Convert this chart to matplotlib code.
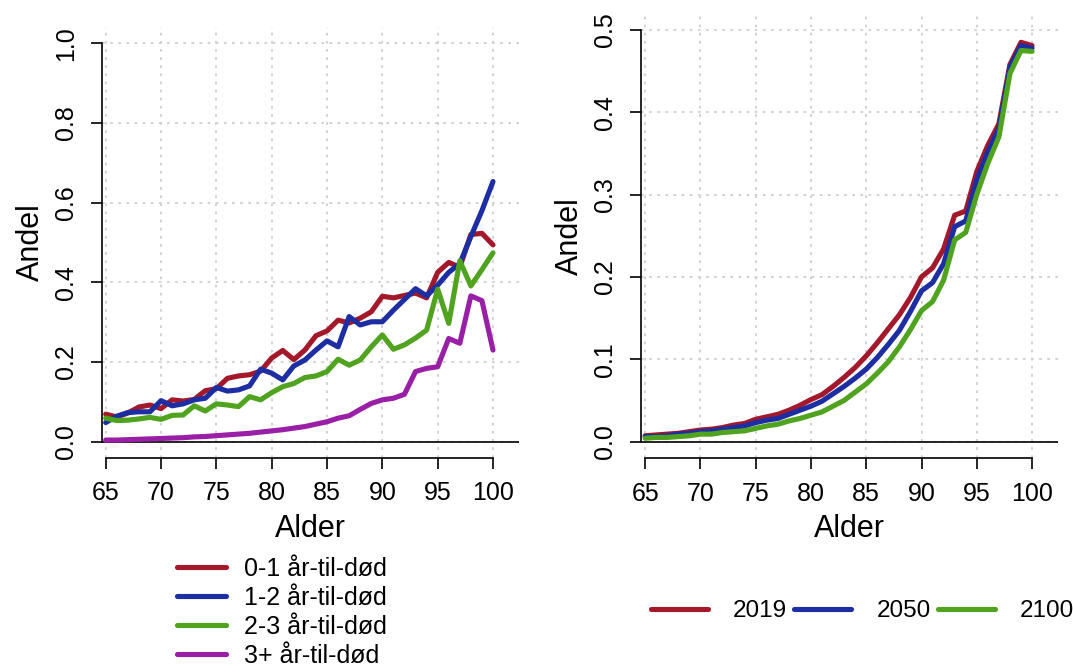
import matplotlib
matplotlib.use("Agg")
import matplotlib.pyplot as plt
import numpy as np

plt.rcParams['font.family'] = ['Liberation Sans', 'DejaVu Sans']

### DATA ###
ages = list(range(65, 101))

# left panel: andel by years-to-death
ttd_labels = ['0-1 år-til-død', '1-2 år-til-død', '2-3 år-til-død', '3+ år-til-død']
ttd_0_1 = [0.069, 0.062, 0.072, 0.087, 0.092, 0.083, 0.105, 0.102, 0.106, 0.128, 0.133,
           0.159, 0.165, 0.168, 0.177, 0.210, 0.229, 0.206, 0.230, 0.266, 0.278, 0.305,
           0.298, 0.310, 0.326, 0.365, 0.361, 0.367, 0.373, 0.361, 0.425, 0.450, 0.438,
           0.520, 0.523, 0.494]
ttd_1_2 = [0.048, 0.064, 0.073, 0.075, 0.075, 0.103, 0.090, 0.095, 0.105, 0.109, 0.136,
           0.127, 0.130, 0.140, 0.182, 0.172, 0.155, 0.190, 0.205, 0.230, 0.253, 0.238,
           0.314, 0.293, 0.301, 0.301, 0.330, 0.357, 0.384, 0.366, 0.393, 0.425, 0.447,
           0.515, 0.580, 0.653]
ttd_2_3 = [0.059, 0.053, 0.054, 0.057, 0.061, 0.056, 0.066, 0.067, 0.090, 0.077, 0.095,
           0.092, 0.088, 0.113, 0.105, 0.123, 0.138, 0.146, 0.161, 0.165, 0.176, 0.207,
           0.192, 0.205, 0.238, 0.268, 0.232, 0.243, 0.260, 0.280, 0.383, 0.297, 0.454,
           0.391, 0.432, 0.474]
ttd_3p = [0.004, 0.004, 0.005, 0.006, 0.007, 0.008, 0.009, 0.010, 0.012, 0.013, 0.015,
          0.017, 0.019, 0.021, 0.024, 0.027, 0.030, 0.034, 0.038, 0.044, 0.050, 0.059,
          0.065, 0.081, 0.096, 0.105, 0.109, 0.119, 0.176, 0.184, 0.188, 0.259, 0.247,
          0.366, 0.354, 0.230]

# right panel: andel by year
year_labels = ['2019', '2050', '2100']
y2019 = [0.007, 0.008, 0.009, 0.010, 0.012, 0.014, 0.015, 0.017, 0.020, 0.022, 0.027,
         0.030, 0.033, 0.038, 0.044, 0.051, 0.057, 0.067, 0.078, 0.090, 0.104, 0.120,
         0.137, 0.154, 0.175, 0.200, 0.211, 0.234, 0.275, 0.280, 0.328, 0.360, 0.386,
         0.458, 0.485, 0.481]
y2050 = [0.006, 0.006, 0.007, 0.009, 0.010, 0.012, 0.013, 0.015, 0.017, 0.019, 0.023,
         0.026, 0.028, 0.033, 0.038, 0.043, 0.049, 0.058, 0.067, 0.077, 0.088, 0.102,
         0.118, 0.135, 0.158, 0.183, 0.193, 0.216, 0.261, 0.268, 0.318, 0.352, 0.380,
         0.455, 0.481, 0.478]
y2100 = [0.004, 0.005, 0.005, 0.006, 0.007, 0.009, 0.009, 0.011, 0.012, 0.013, 0.016,
         0.019, 0.021, 0.025, 0.028, 0.032, 0.036, 0.043, 0.050, 0.060, 0.070, 0.083,
         0.097, 0.115, 0.136, 0.159, 0.170, 0.196, 0.245, 0.254, 0.300, 0.338, 0.370,
         0.447, 0.475, 0.474]

xticks = [65, 70, 75, 80, 85, 90, 95, 100]

RED = '#A3192B'
BLUE = '#1D2EA2'
GREEN = '#4FA31E'
PURPLE = '#991FA6'

W, H = 1073, 668
fig = plt.figure(figsize=(W / 100, H / 100), dpi=100)


def axes_px(left, top, right, bottom):
    return fig.add_axes([left / W, 1 - bottom / H, (right - left) / W, (bottom - top) / H])


def style_axes(ax, yticks, ylabels):
    ax.set_xlim(64.62, 102.35)
    ax.set_xticks(xticks)
    ax.set_yticks(yticks)
    ax.set_yticklabels(ylabels, rotation=90, va='center')
    ax.grid(True, color='#CFCFCF', linestyle=(0, (1.5, 3)), linewidth=1.3)
    ax.set_axisbelow(True)
    for s in ['top', 'right']:
        ax.spines[s].set_visible(False)
    ax.spines['left'].set_bounds(yticks[0], yticks[-1])
    ax.spines['bottom'].set_bounds(65, 100)
    ax.spines['left'].set_linewidth(1.2)
    ax.spines['bottom'].set_linewidth(1.2)
    ax.axhline(0, color='black', lw=1.2, zorder=1)
    ax.tick_params(axis='both', labelsize=18, length=8, width=1.2, pad=9)
    ax.set_xlabel('Alder', fontsize=22, labelpad=6)
    ax.set_ylabel('Andel', fontsize=22, labelpad=6)


### LEFT PANEL ###
ax1 = axes_px(101.5, 27.4, 519, 457.6)
ax1.set_ylim(-0.04, 1.04)
l1 = []
for vals, col, lab in zip([ttd_0_1, ttd_1_2, ttd_2_3, ttd_3p], [RED, BLUE, GREEN, PURPLE], ttd_labels):
    l1 += ax1.plot(ages, vals, color=col, lw=3.7, label=lab,
                   solid_joinstyle='round', solid_capstyle='round')
style_axes(ax1, [0, 0.2, 0.4, 0.6, 0.8, 1.0], ['0.0', '0.2', '0.4', '0.6', '0.8', '1.0'])

### RIGHT PANEL ###
ax2 = axes_px(641, 13.5, 1058, 458)
ax2.set_ylim(-0.02, 0.52)
l2 = []
for vals, col, lab in zip([y2019, y2050, y2100], [RED, BLUE, GREEN], year_labels):
    l2 += ax2.plot(ages, vals, color=col, lw=3.7, label=lab,
                   solid_joinstyle='round', solid_capstyle='round')
style_axes(ax2, [0, 0.1, 0.2, 0.3, 0.4, 0.5], ['0.0', '0.1', '0.2', '0.3', '0.4', '0.5'])

### LEGENDS ###
fig.legend(handles=l1, loc='upper left', bbox_to_anchor=(177 / W, 1 - 557 / H),
           frameon=False, fontsize=18, handlelength=1.95, handletextpad=0.75,
           labelspacing=0.2, borderpad=0, borderaxespad=0)
fig.legend(handles=l2, loc='upper left', bbox_to_anchor=(651 / W, 1 - 600 / H),
           frameon=False, fontsize=17.5, ncol=3, handlelength=2.35, handletextpad=1.03,
           columnspacing=0.29, borderpad=0, borderaxespad=0)

plt.savefig('out.png', dpi=100)
